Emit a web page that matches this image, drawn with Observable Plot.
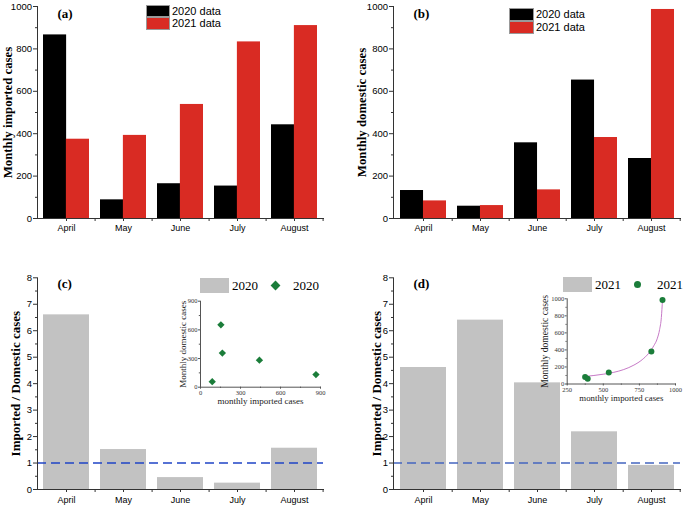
<!DOCTYPE html>
<html><head><meta charset="utf-8">
<script src="https://cdn.jsdelivr.net/npm/d3@7"></script>
<script src="https://cdn.jsdelivr.net/npm/@observablehq/plot@0.6"></script>
<style>
body{margin:0;background:#fff;}
#wrap{position:relative;width:685px;height:506px;overflow:hidden;background:#fff;}
#wrap svg{position:absolute;overflow:visible;}
.lg{position:absolute;white-space:nowrap;color:#000;}
.box{position:absolute;box-sizing:border-box;}
</style></head><body><div id="wrap"></div>
<script>
// ---- data ----
const months = ["April", "May", "June", "July", "August"];
const imported2020 = [866, 88, 164, 153, 442];
const imported2021 = [374, 392, 538, 833, 910];
const domestic2020 = [132, 58, 357, 653, 283];
const domestic2021 = [83, 61, 135, 382, 986];
const ratio2020 = [6.60, 1.51, 0.45, 0.24, 1.56];
const ratio2021 = [4.61, 6.40, 4.03, 2.18, 0.91];
// fitted curve of panel (d) inset
const fitImported2021 = [377, 435, 504, 573, 642, 712, 769, 815, 850, 873, 890, 902, 910];
const fitDomestic2021 = [90, 100, 116, 137, 170, 222, 285, 362, 450, 530, 640, 780, 986];
// ticks
const casesTicks = [0, 200, 400, 600, 800, 1000];
const casesMinor = [100, 300, 500, 700, 900];
const ratioTicks = [0, 1, 2, 3, 4, 5, 6, 7, 8];
const ratioMinor = [0.5, 1.5, 2.5, 3.5, 4.5, 5.5, 6.5, 7.5];
const inset20Ticks = [0, 300, 600, 900];
const inset20Minor = [150, 450, 750];
const inset21XTicks = [250, 500, 750, 1000];
const inset21XMinor = [375, 625, 875];
const inset21YTicks = [0, 200, 400, 600, 800, 1000];
const inset21YMinor = [100, 300, 500, 700, 900];

const rows = months.map((m, i) => ({
  month: m, imp20: imported2020[i], imp21: imported2021[i],
  dom20: domestic2020[i], dom21: domestic2021[i],
  r20: ratio2020[i], r21: ratio2021[i]
}));
const scatter20 = imported2020.map((v, i) => ({x: v, y: domestic2020[i]}));
const scatter21 = imported2021.map((v, i) => ({x: v, y: domestic2021[i]}));
const fit21 = fitImported2021.map((v, i) => ({x: v, y: fitDomestic2021[i]}));

const SANS = "'Liberation Sans', Arial, sans-serif";
const SERIF = "'Liberation Serif', 'Times New Roman', serif";
const RED = "#d92b23", GREEN = "#1b7d3a", GRAY = "#c2c2c2";
const plain = d => String(d);
const wrap = document.getElementById("wrap");

function place(el, left, top) {
  el.style.left = left + "px";
  el.style.top = top + "px";
  wrap.appendChild(el);
}

function panel(o) {
  const plotW = o.width - o.mLeft - o.mRight;
  const step = plotW / 5;
  const svg = Plot.plot({
    width: o.width, height: o.height,
    marginLeft: o.mLeft, marginRight: o.mRight, marginTop: o.mTop, marginBottom: o.mBottom,
    x: {type: "band", domain: months, paddingInner: 0.2, paddingOuter: 0.1},
    y: {domain: o.yDomain},
    style: {background: "transparent", fontFamily: SANS, fontSize: "9px", color: "#000", overflow: "visible"},
    marks: [
      ...o.marks(step * 0.8),
      Plot.frame({anchor: "left", stroke: "#333"}),
      Plot.frame({anchor: "bottom", stroke: "#333"}),
      Plot.axisY({ticks: o.yTicks, tickFormat: plain, tickSize: 4, tickPadding: 1.5, fontSize: 9.5, label: null, stroke: "#333"}),
      Plot.axisY({ticks: o.yMinor, tickSize: 2, tickFormat: () => "", label: null, stroke: "#333"}),
      Plot.axisX({tickSize: 3, tickPadding: o.xPad, fontSize: 9, label: null, stroke: "#333"}),
      Plot.axisX({ticks: months, dx: step / 2, tickSize: 3, tickFormat: () => "", label: null, stroke: "#333"}),
      Plot.text([o.title], {frameAnchor: "left", textAnchor: "middle", lineAnchor: "middle", rotate: -90, dx: o.titleDx, text: d => d,
        fontFamily: SERIF, fontWeight: "bold", fontSize: o.titleSize, fill: "#000"}),
      Plot.text([o.letter], {frameAnchor: "top-left", textAnchor: "start", lineAnchor: "middle",
        dx: 20, dy: o.letterDy, text: d => d, fontFamily: SERIF, fontWeight: "bold", fontSize: 13, fill: "#000"})
    ]
  });
  place(svg, o.left, o.top);
}

// (a) monthly imported
panel({
  left: 0, top: 0, width: 342, height: 250, mLeft: 37, mRight: 19, mTop: 6, mBottom: 32,
  yDomain: [0, 1000], yTicks: casesTicks, yMinor: casesMinor, xPad: 3.5,
  title: "Monthly imported cases", titleDx: -30, titleSize: 12.8, letter: "(a)", letterDy: 7,
  marks: bw => [
    Plot.barY(rows, {x: "month", y: "imp20", fill: "#000", insetRight: bw / 2}),
    Plot.barY(rows, {x: "month", y: "imp21", fill: RED, insetLeft: bw / 2})
  ]
});
// (b) monthly domestic
panel({
  left: 342, top: 0, width: 343, height: 250, mLeft: 51, mRight: 5, mTop: 6, mBottom: 32,
  yDomain: [0, 1000], yTicks: casesTicks, yMinor: casesMinor, xPad: 3.5,
  title: "Monthly domestic cases", titleDx: -31.3, titleSize: 12.8, letter: "(b)", letterDy: 7,
  marks: bw => [
    Plot.barY(rows, {x: "month", y: "dom20", fill: "#000", insetRight: bw / 2}),
    Plot.barY(rows, {x: "month", y: "dom21", fill: RED, insetLeft: bw / 2})
  ]
});
// (c) ratio 2020
panel({
  left: 0, top: 250, width: 342, height: 256, mLeft: 37, mRight: 19, mTop: 27.3, mBottom: 17,
  yDomain: [0, 8], yTicks: ratioTicks, yMinor: ratioMinor, xPad: 4,
  title: "Imported / Domestic cases", titleDx: -22, titleSize: 13, letter: "(c)", letterDy: 6,
  marks: () => [
    Plot.barY(rows, {x: "month", y: "r20", fill: GRAY}),
    Plot.ruleY([1], {stroke: "#1f44c6", strokeWidth: 1.5, strokeDasharray: "9,5"})
  ]
});
// (d) ratio 2021
panel({
  left: 342, top: 250, width: 343, height: 256, mLeft: 51, mRight: 5, mTop: 27.3, mBottom: 17,
  yDomain: [0, 8], yTicks: ratioTicks, yMinor: ratioMinor, xPad: 4,
  title: "Imported / Domestic cases", titleDx: -17, titleSize: 13, letter: "(d)", letterDy: 6,
  marks: () => [
    Plot.barY(rows, {x: "month", y: "r21", fill: GRAY}),
    Plot.ruleY([1], {stroke: "#4466c0", strokeWidth: 1.5, strokeDasharray: "9,5"})
  ]
});

function inset(o) {
  const svg = Plot.plot({
    width: o.width, height: o.height,
    marginLeft: o.mLeft, marginRight: o.mRight, marginTop: o.mTop, marginBottom: o.mBottom,
    x: {domain: o.xDomain}, y: {domain: o.yDomain},
    style: {background: "transparent", fontFamily: SERIF, fontSize: "6px", color: "#333", overflow: "visible"},
    marks: [
      Plot.frame({anchor: "left", stroke: "#555"}),
      Plot.frame({anchor: "bottom", stroke: "#555"}),
      Plot.axisX({ticks: o.xTicks, tickFormat: plain, tickSize: 2, tickPadding: 1, fontSize: 6.5, label: null, stroke: "#555"}),
      Plot.axisX({ticks: o.xMinor, tickSize: 1.2, tickFormat: () => "", label: null, stroke: "#555"}),
      Plot.axisY({ticks: o.yTicks, tickFormat: plain, tickSize: 2, tickPadding: 1, fontSize: 6.5, label: null, stroke: "#555"}),
      Plot.axisY({ticks: o.yMinor, tickSize: 1.2, tickFormat: () => "", label: null, stroke: "#555"}),
      ...o.marks,
      Plot.text(["Monthly domestic cases"], {frameAnchor: "left", textAnchor: "middle", lineAnchor: "middle", rotate: -90, dx: o.yLabelDx, text: d => d,
        fontFamily: SERIF, fontSize: o.yLabelSize, fill: "#222"}),
      Plot.text(["monthly imported cases"], {frameAnchor: "bottom", textAnchor: "middle", lineAnchor: "middle", dy: o.xLabelDy, text: d => d,
        fontFamily: SERIF, fontSize: o.xLabelSize, fill: "#222"})
    ]
  });
  place(svg, o.left, o.top);
}

inset({
  left: 160, top: 292, width: 175, height: 120, mLeft: 40, mRight: 15, mTop: 8.7, mBottom: 25.3,
  xDomain: [0, 900], yDomain: [0, 900], xTicks: inset20Ticks, xMinor: inset20Minor,
  yTicks: inset20Ticks, yMinor: inset20Minor, yLabelDx: -17, yLabelSize: 9, xLabelDy: 13.5, xLabelSize: 9,
  marks: [Plot.dot(scatter20, {x: "x", y: "y", symbol: "diamond2", r: 3.3, fill: GREEN, stroke: "none"})]
});
inset({
  left: 520, top: 288, width: 170, height: 120, mLeft: 46.7, mRight: 15, mTop: 10.3, mBottom: 24.5,
  xDomain: [250, 1000], yDomain: [0, 1000], xTicks: inset21XTicks, xMinor: inset21XMinor,
  yTicks: inset21YTicks, yMinor: inset21YMinor, yLabelDx: -22.7, yLabelSize: 9.6, xLabelDy: 14.2, xLabelSize: 8.8,
  marks: [
    Plot.line(fit21, {x: "x", y: "y", curve: "monotone-x", stroke: "#c77ac7", strokeWidth: 1}),
    Plot.dot(scatter21, {x: "x", y: "y", r: 3, fill: GREEN, stroke: "none"})
  ]
});

// ---- legends ----
function box(left, top, w, h, bg, border, extra) {
  const d = document.createElement("div");
  d.className = "box";
  d.style.cssText += `left:${left}px;top:${top}px;width:${w}px;height:${h}px;background:${bg};` +
    (border ? `border:1px solid ${border};` : "") + (extra || "");
  wrap.appendChild(d);
}
function label(text, left, cy, font, size) {
  const d = document.createElement("div");
  d.className = "lg";
  d.textContent = text;
  d.style.cssText += `left:${left}px;top:${cy - size * 0.6}px;font-family:${font};font-size:${size}px;line-height:${size * 1.2}px;`;
  wrap.appendChild(d);
}
// (a)
box(145.7, 4.7, 24.5, 12.8, "#000", "#999");
box(145.7, 17.3, 24.5, 12.8, RED, "#999");
label("2020 data", 172, 11.2, SANS, 11);
label("2021 data", 172, 23.8, SANS, 11);
// (b)
box(509, 8.3, 24.5, 12.8, "#000", "#999");
box(509, 20.8, 24.5, 12.8, RED, "#999");
label("2020 data", 536, 14.6, SANS, 11);
label("2021 data", 536, 27.2, SANS, 11);
// (c)
box(200, 278, 29, 15, GRAY, null);
label("2020", 232, 285.5, SERIF, 13);
box(271.5, 282, 7, 7, GREEN, null, "transform:rotate(45deg);");
label("2020", 293, 285.5, SERIF, 13);
// (d)
box(562.7, 277, 29, 15, GRAY, null);
label("2021", 595, 284.5, SERIF, 13);
box(634.2, 280.5, 7, 7, GREEN, null, "border-radius:50%;");
label("2021", 657, 284.5, SERIF, 13);
</script></body></html>
